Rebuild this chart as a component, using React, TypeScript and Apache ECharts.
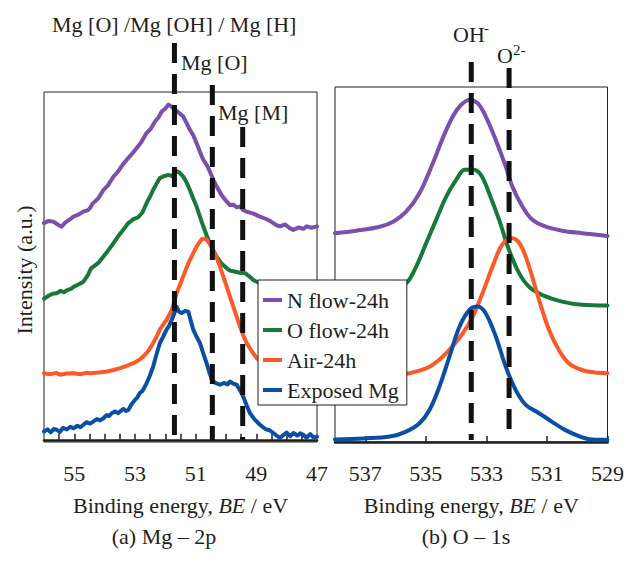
import { useEffect, useRef } from "react";
import * as echarts from "echarts";

const seriesNames = ["N flow-24h", "O flow-24h", "Air-24h", "Exposed Mg"];
const seriesColors = ["#7A4FAE", "#17783A", "#F85A2B", "#0B4FA5"];

// (a) Mg 2p : [binding energy (eV), intensity (a.u.)]
const mgNFlow: [number, number][] = [[56.00,60.2],[55.85,60.8],[55.69,60.6],[55.55,59.8],[55.42,59.2],[55.30,60.3],[55.15,61.2],[55.03,62.0],[54.85,62.6],[54.70,63.4],[54.55,63.8],[54.48,64.4],[54.40,65.6],[54.32,66.2],[54.20,67.2],[54.04,69.4],[53.90,70.6],[53.71,73.1],[53.55,74.6],[53.40,76.5],[53.27,77.8],[53.10,79.4],[52.95,81.0],[52.80,82.6],[52.62,85.2],[52.48,86.4],[52.34,88.4],[52.22,89.6],[52.12,91.2],[52.00,92.0],[51.90,93.1],[51.80,92.6],[51.68,91.7],[51.55,90.8],[51.41,89.8],[51.30,88.0],[51.19,86.1],[51.08,84.6],[50.97,82.4],[50.86,80.0],[50.75,77.8],[50.64,76.4],[50.53,74.5],[50.42,72.2],[50.31,70.4],[50.15,68.0],[49.98,66.2],[49.87,65.2],[49.76,65.3],[49.65,64.6],[49.54,64.8],[49.43,63.8],[49.32,63.4],[49.10,62.8],[48.88,62.0],[48.70,61.4],[48.55,60.8],[48.44,60.2],[48.33,59.6],[48.22,59.3],[48.05,59.8],[47.90,58.8],[47.78,58.3],[47.60,59.0],[47.45,58.6],[47.34,59.3],[47.18,58.9],[47.00,59.3]];
const mgOFlow: [number, number][] = [[56.00,39.2],[55.85,40.0],[55.72,40.6],[55.58,40.7],[55.45,41.4],[55.35,41.0],[55.25,41.5],[55.10,42.0],[55.00,42.6],[54.85,43.2],[54.70,43.9],[54.55,45.8],[54.45,47.6],[54.37,48.1],[54.20,49.2],[54.04,50.9],[53.90,52.4],[53.71,54.6],[53.55,56.6],[53.40,58.2],[53.22,60.2],[53.05,61.3],[52.90,61.8],[52.75,63.2],[52.62,65.7],[52.50,67.6],[52.40,69.4],[52.28,71.3],[52.18,72.7],[52.05,73.2],[51.90,73.6],[51.80,73.3],[51.74,73.6],[51.62,74.6],[51.54,74.3],[51.41,73.1],[51.30,71.5],[51.19,69.4],[51.08,67.0],[50.97,64.8],[50.86,62.0],[50.75,59.3],[50.64,56.8],[50.53,54.6],[50.42,52.5],[50.31,50.9],[50.15,49.0],[49.98,47.7],[49.87,47.0],[49.76,46.8],[49.55,46.4],[49.37,46.3],[49.20,45.2],[49.10,44.4],[48.88,43.4],[48.60,42.8],[48.30,42.2],[48.00,41.9],[47.60,41.6],[47.30,41.3],[47.00,41.2]];
const mgAir: [number, number][] = [[56.00,18.5],[55.80,18.2],[55.60,18.6],[55.47,18.1],[55.25,18.4],[55.03,18.5],[54.80,18.2],[54.60,18.6],[54.48,18.5],[54.20,18.7],[53.93,19.0],[53.70,19.4],[53.49,19.9],[53.30,20.5],[53.05,21.3],[52.88,22.1],[52.73,23.1],[52.55,24.8],[52.40,26.9],[52.28,28.8],[52.18,30.6],[52.05,32.3],[51.96,33.3],[51.85,35.0],[51.79,36.1],[51.70,38.4],[51.63,40.7],[51.52,43.0],[51.41,45.4],[51.30,47.8],[51.19,50.0],[51.08,51.8],[50.97,53.7],[50.88,54.8],[50.80,55.7],[50.72,55.9],[50.64,55.6],[50.53,54.4],[50.42,52.8],[50.31,50.6],[50.20,48.1],[50.09,45.4],[49.98,42.6],[49.87,39.8],[49.76,37.0],[49.65,34.2],[49.54,31.5],[49.43,29.0],[49.32,26.9],[49.15,24.6],[48.99,22.7],[48.70,20.8],[48.40,19.8],[48.00,19.2],[47.50,18.8],[47.00,18.6]];
const mgExposed: [number, number][] = [[56.00,2.3],[55.88,2.9],[55.78,2.1],[55.68,3.0],[55.58,2.8],[55.48,2.2],[55.38,3.3],[55.25,2.9],[55.13,3.6],[55.03,3.2],[54.90,3.9],[54.80,3.5],[54.70,4.2],[54.60,4.9],[54.48,4.5],[54.37,5.1],[54.25,5.8],[54.15,5.4],[54.04,6.0],[53.93,6.9],[53.85,6.6],[53.77,7.4],[53.65,7.9],[53.55,7.4],[53.49,7.9],[53.38,8.6],[53.30,8.0],[53.22,8.3],[53.12,9.8],[53.00,11.1],[52.92,11.8],[52.84,13.0],[52.75,13.6],[52.62,15.7],[52.52,17.6],[52.40,20.4],[52.30,23.5],[52.18,26.9],[52.08,28.5],[51.96,30.6],[51.88,31.6],[51.79,33.3],[51.70,35.2],[51.63,37.0],[51.55,35.6],[51.46,35.2],[51.35,35.8],[51.24,35.6],[51.16,33.0],[51.08,30.6],[50.98,28.8],[50.86,26.9],[50.75,24.0],[50.64,21.3],[50.55,18.8],[50.47,16.7],[50.35,15.8],[50.20,15.3],[50.05,15.8],[49.95,15.4],[49.87,16.2],[49.76,15.6],[49.65,15.3],[49.54,13.8],[49.43,12.0],[49.32,9.6],[49.21,7.4],[49.05,5.6],[48.88,4.2],[48.70,3.0],[48.55,2.6],[48.44,1.9],[48.33,1.2],[48.22,0.5],[48.10,1.4],[48.00,2.0],[47.88,1.0],[47.78,1.9],[47.65,1.2],[47.55,1.8],[47.45,1.4],[47.35,0.6],[47.22,1.6],[47.12,0.7],[47.00,0.9]];

// (b) O 1s
const oNFlow: [number, number][] = [[538.00,58.0],[537.29,58.7],[536.52,59.8],[536.08,61.2],[535.65,64.0],[535.21,69.1],[534.77,77.4],[534.44,84.4],[534.11,90.4],[533.84,93.6],[533.56,95.0],[533.29,94.1],[533.02,90.4],[532.69,83.9],[532.36,76.5],[532.14,70.9],[531.81,65.4],[531.48,61.7],[531.04,59.8],[530.50,58.7],[529.84,58.0],[529.00,57.2]];
const oOFlow: [number, number][] = [[538.00,38.5],[537.00,39.5],[536.30,41.5],[535.65,44.1],[535.32,48.7],[534.99,55.2],[534.66,61.7],[534.33,68.1],[534.00,72.8],[533.73,75.6],[533.45,75.7],[533.18,74.2],[532.91,69.1],[532.58,61.7],[532.25,53.3],[531.92,46.9],[531.59,43.1],[531.15,40.8],[530.50,39.0],[529.84,38.1],[529.00,37.9]];
const oAir: [number, number][] = [[538.00,17.0],[537.00,17.5],[536.20,18.3],[535.54,19.1],[534.88,20.9],[534.33,24.6],[533.78,30.2],[533.45,34.8],[533.13,41.3],[532.80,48.7],[532.52,54.3],[532.30,56.3],[532.14,56.6],[531.87,54.7],[531.59,48.7],[531.26,39.4],[530.93,31.1],[530.61,25.6],[530.28,21.9],[529.84,20.0],[529.41,19.3],[529.00,19.1]];
const oExposed: [number, number][] = [[538.00,0.7],[537.07,1.0],[536.19,1.5],[535.65,2.9],[535.21,5.2],[534.88,8.9],[534.55,15.4],[534.22,23.7],[533.89,32.0],[533.56,36.7],[533.29,37.6],[533.02,35.7],[532.69,29.3],[532.36,20.9],[532.03,14.4],[531.70,10.3],[531.26,8.0],[530.83,5.6],[530.39,3.3],[529.84,1.3],[529.41,0.6],[529.00,0.6]];

const mgTickValues = [47.5,48,48.5,49,49.5,50,50.5,51,51.5,52,52.5,53,53.5,54,54.5,55,55.5];
const mgLabelValues = [47, 49, 51, 53, 55];
const oTickValues = [529, 531, 533, 535, 537];
const oLabelValues = [529, 531, 533, 535, 537];

const mgRefEnergies = [51.7, 50.45, 49.45];
const oRefEnergies = [533.5, 532.25];

const titleA = "Mg [O] /Mg [OH] / Mg [H]";
const labelMgO = "Mg [O]";
const labelMgM = "Mg [M]";
const captionA = "(a) Mg – 2p";
const captionB = "(b) O – 1s";
const yName = "Intensity (a.u.)";

export default function App() {
  const ref = useRef<HTMLDivElement>(null);
  useEffect(() => {
    const chart = echarts.init(ref.current!, null, { renderer: "svg" });
    const font = "'Liberation Serif', 'Times New Roman', serif";
    const ink = "#231f20";
    const mk = (name: string, data: [number, number][], color: string, idx: number, smooth: boolean) => ({
      type: "line",
      name,
      data,
      xAxisIndex: idx,
      yAxisIndex: idx,
      showSymbol: false,
      symbol: "none",
      smooth: smooth ? 0.35 : false,
      lineStyle: { color, width: 4, join: "round", cap: "round" },
      itemStyle: { color },
      z: 2,
    });
    const xName = {
      rich: {
        n: { fontFamily: font, fontSize: 22, color: ink },
        i: { fontFamily: font, fontSize: 22, color: ink, fontStyle: "italic" },
      },
    };
    const xCommon = (min: number, max: number, ticks: number[], labels: number[]) => ({
      type: "value",
      inverse: true,
      min,
      max,
      splitLine: { show: false },
      axisLine: { show: true, lineStyle: { color: ink, width: 2.5 } },
      axisTick: { show: true, inside: true, length: 6, customValues: ticks, lineStyle: { color: ink, width: 1.5 } },
      axisLabel: { show: true, customValues: labels, margin: 20, fontFamily: font, fontSize: 22, color: ink },
      name: "{n|Binding energy, }{i|BE}{n| / eV}",
      nameLocation: "middle",
      nameGap: 52,
      nameTextStyle: xName,
    });
    const yCommon = (min: number, max: number) => ({
      type: "value",
      min,
      max,
      axisLine: { show: false },
      axisTick: { show: false },
      axisLabel: { show: false },
      splitLine: { show: false },
    });
    chart.setOption({
      animation: false,
      backgroundColor: "#fff",
      grid: [
        { left: 44, top: 92, width: 273, height: 350, show: true, borderColor: ink, borderWidth: 1, backgroundColor: "transparent" },
        { left: 335, top: 87, width: 274, height: 355, show: true, borderColor: ink, borderWidth: 1, backgroundColor: "transparent" },
      ],
      xAxis: [
        { ...xCommon(47, 56, mgTickValues, mgLabelValues), gridIndex: 0 },
        { ...xCommon(529, 538, oTickValues, oLabelValues), gridIndex: 1 },
      ],
      yAxis: [
        { ...yCommon(-0.6, 96.6), gridIndex: 0 },
        { ...yCommon(0, 98.6), gridIndex: 1 },
      ],
      legend: {
        orient: "vertical",
        left: 258,
        top: 280,
        itemWidth: 19,
        itemHeight: 4,
        itemGap: 8,
        padding: [9, 8, 4, 5],
        backgroundColor: "#fff",
        borderColor: ink,
        borderWidth: 1,
        borderRadius: 0,
        z: 10,
        textStyle: { fontFamily: font, fontSize: 22, color: ink },
        data: seriesNames.map((n) => ({ name: n, icon: "rect" })),
      },
      series: [
        mk(seriesNames[0], mgNFlow, seriesColors[0], 0, false),
        mk(seriesNames[1], mgOFlow, seriesColors[1], 0, false),
        mk(seriesNames[2], mgAir, seriesColors[2], 0, false),
        mk(seriesNames[3], mgExposed, seriesColors[3], 0, false),
        mk(seriesNames[0], oNFlow, seriesColors[0], 1, true),
        mk(seriesNames[1], oOFlow, seriesColors[1], 1, true),
        mk(seriesNames[2], oAir, seriesColors[2], 1, true),
        mk(seriesNames[3], oExposed, seriesColors[3], 1, true),
      ],
    });

    const mgTops = [43, 85, 127];
    const oTops = [62, 68];
    const bottomY = 440;
    const dash = { stroke: "#111", lineWidth: 5, lineDash: [20, 11] };
    const lines: any[] = [];
    mgRefEnergies.forEach((e, i) => {
      const x = chart.convertToPixel({ xAxisIndex: 0 }, e) as number;
      lines.push({ type: "line", z: 5, shape: { x1: x, y1: mgTops[i], x2: x, y2: bottomY }, style: dash });
    });
    oRefEnergies.forEach((e, i) => {
      const x = chart.convertToPixel({ xAxisIndex: 1 }, e) as number;
      lines.push({ type: "line", z: 5, shape: { x1: x, y1: oTops[i], x2: x, y2: bottomY }, style: dash });
    });
    const txt = (text: string, x: number, y: number, size = 22, align = "left") => ({
      type: "text",
      z: 6,
      x,
      y,
      style: { text, fontFamily: font, fontSize: size, fill: ink, align, verticalAlign: "middle" },
    });
    chart.setOption({
      graphic: [
        ...lines,
        txt(titleA, 52, 24),
        txt(labelMgO, 181, 62),
        txt(labelMgM, 218, 112),
        txt("OH", 453, 34),
        txt("-", 484, 28, 15),
        txt("O", 497, 55),
        txt("2-", 513, 50, 15),
        txt(captionA, 164, 536, 22, "center"),
        txt(captionB, 466, 536, 22, "center"),
        {
          type: "text",
          z: 6,
          x: 24,
          y: 270,
          rotation: Math.PI / 2,
          style: { text: yName, fontFamily: font, fontSize: 22, fill: ink, align: "center", verticalAlign: "middle" },
        },
      ],
    });
    return () => chart.dispose();
  }, []);
  return <div ref={ref} style={{ position: "fixed", left: 0, top: 0, width: 627, height: 565 }} />;
}
